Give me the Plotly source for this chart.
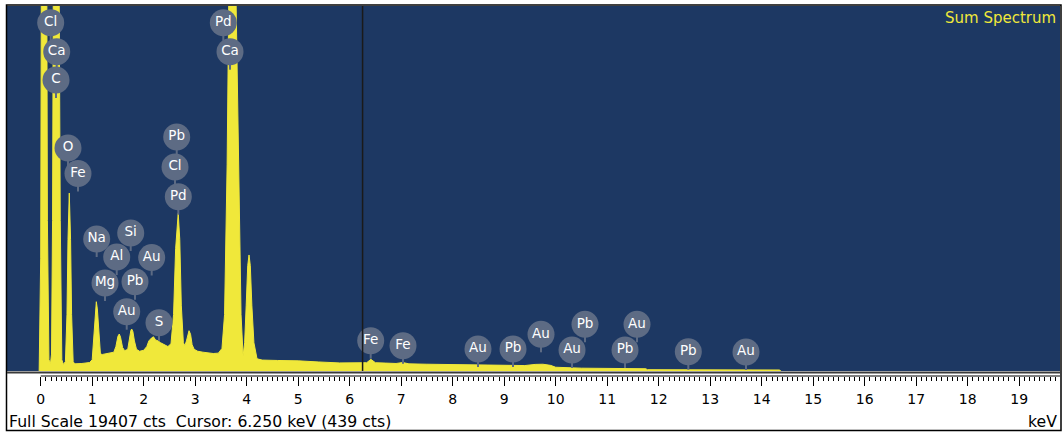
import plotly.graph_objects as go

# ---------------- data ----------------
ENERGY_KEV = [
    -0.03, 0.00, 0.02, 0.07, 0.11, 0.13, 0.16, 0.19,
    0.21, 0.23, 0.25, 0.30, 0.35, 0.38, 0.41, 0.44,
    0.48, 0.51, 0.53, 0.555, 0.58, 0.60, 0.63, 0.66,
    0.80, 0.95,
    1.00, 1.03, 1.06, 1.08, 1.10, 1.13, 1.16,
    1.20, 1.28, 1.36, 1.42,
    1.46, 1.50, 1.526, 1.55, 1.59, 1.63,
    1.69, 1.72, 1.75, 1.767, 1.79, 1.82, 1.86, 1.92, 2.00, 2.06,
    2.10, 2.15, 2.19, 2.23, 2.28, 2.33, 2.40, 2.47,
    2.53, 2.58, 2.62, 2.67, 2.70, 2.73, 2.77, 2.80,
    2.83, 2.86, 2.88, 2.91, 2.94, 2.98, 3.05, 3.15, 3.25, 3.35, 3.45,
    3.52, 3.57, 3.62, 3.66, 3.72, 3.78, 3.84, 3.89, 3.93,
    3.96, 3.99, 4.02, 4.045, 4.07, 4.10, 4.14, 4.20,
    4.30, 4.60, 5.00, 5.40, 5.80, 6.25,
    6.33, 6.41, 6.50, 6.70, 6.90, 7.03, 7.15,
    7.50, 8.00, 8.50, 9.00, 9.40, 9.60, 9.75, 9.90,
    10.00, 10.50, 11.00, 11.50, 11.75, 11.78, 12.50, 13.50, 14.35, 14.37,
]
COUNTS = [
    0, 6000, 30000, 42000, 30000, 8000, 600, 400,
    900, 8000, 25000, 38000, 25000, 8000, 600, 350,
    500, 3000, 7000, 9460, 7000, 3000, 500, 380,
    400, 450,
    600, 1800, 3300, 3685, 3300, 1800, 900,
    880, 920, 960, 1000,
    1300, 1850, 1967, 1800, 1250, 1080,
    1150, 1700, 2150, 2233, 2100, 1600, 1150, 1050, 1100, 1300,
    1600, 1750, 1820, 1650, 1600, 1500, 1400, 1300,
    1450, 3000, 6500, 8385, 7000, 3500, 1500, 1350,
    1600, 2050, 2143, 1950, 1400, 1150, 1050, 1000, 950, 930, 950,
    1200, 3000, 11000, 22000, 30000, 22000, 11000, 3000, 800,
    1500, 3500, 5600, 6170, 5600, 3500, 1500, 650,
    580, 560, 540, 480, 430, 439,
    440, 620, 440, 420, 400, 450, 380,
    360, 340, 320, 300, 290, 350, 360, 300,
    200, 150, 140, 130, 120, 70, 65, 60, 55, 0,
]

LABEL_TEXT = ["Cl", "Ca", "C", "O", "Fe", "Na", "Si", "Al", "Au", "Mg", "Pb", "Au", "S",
              "Pb", "Cl", "Pd", "Pd", "Ca", "Fe", "Fe", "Au", "Pb", "Au", "Pb", "Au",
              "Au", "Pb", "Pb", "Au"]
LABEL_KEV = [0.194, 0.311, 0.297, 0.530, 0.724, 1.087, 1.748, 1.476, 2.155, 1.249, 1.831, 1.670, 2.297,
             2.641, 2.608, 2.672, 3.546, 3.676, 6.408, 7.035, 8.491, 9.171, 9.715, 10.569, 10.317,
             11.579, 11.346, 12.575, 13.695]
LABEL_CTS = [18519, 16977, 15472, 11857, 10501, 7018, 7337, 6061, 6035, 4679, 4748, 3153, 2568,
             12442, 10847, 9267, 18519, 16977, 1611, 1345, 1170, 1170, 1951, 2483, 1117,
             2483, 1117, 1026, 1010]

TICK_VALUES = list(range(0, 20))
TICK_LABELS = [str(v) for v in TICK_VALUES]
MINOR_TICKS = [i / 10 for i in range(0, 198)]

FULL_SCALE = 19407
CURSOR_KEV = 6.25
CURSOR_CTS = 439
TITLE = "Sum Spectrum"
FOOTER = f"Full Scale {FULL_SCALE} cts  Cursor: {CURSOR_KEV:.3f} keV ({CURSOR_CTS} cts)"
UNIT = "keV"

# ---------------- style / geometry ----------------
W, H = 1063, 435
PL, PR = 7, 1060          # plot area left/right px
PT, PB = 6, 371           # navy area top/bottom px
AX = 376                  # axis line px
NAVY = "#1d3863"
YELLOW = "#f0e83a"
LABEL_GRAY = "#5d6b84"
FONT = "DejaVu Sans"

KEV0_PX, PX_PER_KEV = 40.7, 51.5
x_lo = (PL - KEV0_PX) / PX_PER_KEV
x_hi = (PR - KEV0_PX) / PX_PER_KEV
cts_per_px = FULL_SCALE / (PB - PT)


def px_x(px):
    return (px - PL) / (PR - PL)


def px_y(py):
    return (AX - py) / (AX - PT)


fig = go.Figure()
fig.add_trace(go.Scatter(
    x=ENERGY_KEV, y=COUNTS, mode="lines",
    line=dict(color=YELLOW, width=1), fill="tozeroy", fillcolor=YELLOW,
    hoverinfo="skip", showlegend=False))

# label stems
sx, sy = [], []
for k, c in zip(LABEL_KEV, LABEL_CTS):
    sx += [k, k, None]
    sy += [c - 8 * cts_per_px, c - 18 * cts_per_px, None]
fig.add_trace(go.Scatter(x=sx, y=sy, mode="lines", line=dict(color=LABEL_GRAY, width=2),
                         hoverinfo="skip", showlegend=False))

fig.add_trace(go.Scatter(
    x=LABEL_KEV, y=LABEL_CTS, mode="markers+text", text=LABEL_TEXT,
    textposition="middle center",
    textfont=dict(family=FONT, size=13.5, color="white"),
    marker=dict(size=27, color=LABEL_GRAY, line=dict(width=0)),
    hoverinfo="skip", showlegend=False, cliponaxis=False))

shapes = [
    # outer frame
    dict(type="rect", xref="paper", yref="paper",
         x0=px_x(6.5), x1=px_x(1061), y0=px_y(430.5), y1=px_y(5),
         line=dict(color="black", width=1.5), fillcolor="rgba(0,0,0,0)", layer="above"),
    # separator under the spectrum
    dict(type="line", xref="paper", yref="paper",
         x0=px_x(7), x1=px_x(1060.5), y0=px_y(372.5), y1=px_y(372.5),
         line=dict(color="#3a3a3a", width=2), layer="above"),
    # axis ruler line
    dict(type="line", xref="x", yref="paper",
         x0=0, x1=x_hi, y0=px_y(376), y1=px_y(376),
         line=dict(color="black", width=1), layer="above"),
    # cursor
    dict(type="line", xref="x", yref="paper",
         x0=CURSOR_KEV, x1=CURSOR_KEV, y0=px_y(PB), y1=px_y(PT),
         line=dict(color="#1a1a1a", width=1.5), layer="above"),
]

annotations = [
    dict(text=TITLE, xref="paper", yref="paper", x=px_x(1058), y=px_y(18),
         xanchor="right", yanchor="middle", showarrow=False,
         font=dict(family=FONT, size=15, color=YELLOW)),
    dict(text=FOOTER, xref="paper", yref="paper", x=px_x(7), y=px_y(421),
         xanchor="left", yanchor="middle", showarrow=False,
         font=dict(family=FONT, size=15.7, color="black")),
    dict(text=UNIT, xref="paper", yref="paper", x=px_x(1059), y=px_y(421),
         xanchor="right", yanchor="middle", showarrow=False,
         font=dict(family=FONT, size=15.7, color="black")),
]

fig.update_layout(
    width=W, height=H,
    margin=dict(l=PL, r=W - PR, t=PT, b=H - AX, pad=0),
    paper_bgcolor="white", plot_bgcolor=NAVY,
    showlegend=False,
    xaxis=dict(
        range=[x_lo, x_hi], anchor="free", position=0,
        tickmode="array", tickvals=TICK_VALUES, ticktext=TICK_LABELS,
        ticks="outside", ticklen=9, tickwidth=1, tickcolor="black",
        ticklabelstandoff=1,
        tickfont=dict(family=FONT, size=14, color="black"),
        showgrid=False, zeroline=False, showline=False, fixedrange=True,
        minor=dict(tickmode="array", tickvals=MINOR_TICKS, ticks="outside",
                   ticklen=4, tickwidth=1, tickcolor="black", showgrid=False),
    ),
    yaxis=dict(
        range=[0, FULL_SCALE], domain=[px_y(PB), 1],
        visible=False, showgrid=False, zeroline=False, fixedrange=True,
    ),
    shapes=shapes, annotations=annotations,
)

fig.write_html("out.html", config={"displayModeBar": False, "staticPlot": True},
               post_script="document.body.style.margin='0';")
